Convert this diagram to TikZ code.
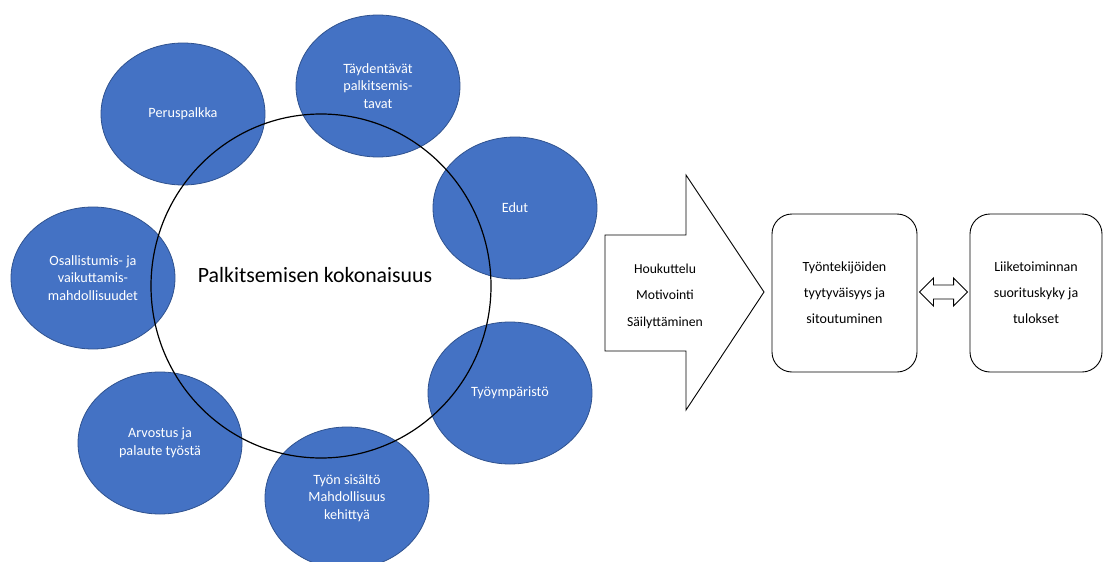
\documentclass[tikz,border=0pt]{standalone}
\usepackage{fontspec}
\setmainfont{Carlito}
\usetikzlibrary{shapes.geometric,calc}
\definecolor{ellblue}{HTML}{4472C4}
\definecolor{elledge}{HTML}{2F528F}
\begin{document}
\begin{tikzpicture}[x=1pt,y=-1pt,
  ell/.style={ellipse, fill=ellblue, draw=elledge, line width=0.8pt, minimum width=164pt, minimum height=142pt, inner sep=0pt, text=white, font=\fontsize{14.2}{17.5}\selectfont, align=center},
  box/.style={draw=black, line width=0.9pt, rounded corners=20pt, minimum height=158pt, inner sep=0pt, align=center, font=\fontsize{14}{26}\selectfont},
  shape line/.style={draw=black, line width=0.9pt, line join=miter},
  ]
\path[use as bounding box, fill=white] (0,0) rectangle (1103,562);
% blue ellipses
\node[ell] (perus) at (183,114) {Peruspalkka};
\node[ell] (tayd) at (378,86) {Täydentävät\\palkitsemis-\\tavat};
\node[ell] (edut) at (515,208) {Edut};
\node[ell] (osal) at (93,278) {Osallistumis- ja\\vaikuttamis-\\mahdollisuudet};
\node[ell] (tyoymp) at (510,393) {Työympäristö};
\node[ell] (arvo) at (160,443) {Arvostus ja\\palaute työstä};
\node[ell] (sisalto) at (347,498) {Työn sisältö\\Mahdollisuus\\kehittyä};
% big circle
\node[ellipse, draw=black, line width=1.2pt, minimum width=340pt, minimum height=344pt, inner sep=0pt] (whole) at (321,286) {};
\node[font=\fontsize{21.8}{26}\selectfont] (title) at (315,275) {Palkitsemisen kokonaisuus};
% block arrow
\path[shape line] (605,235) -- (686,235) -- (686,175) -- (764,292) -- (686,410) -- (686,351) -- (605,351) -- cycle;
\node[align=center, font=\fontsize{13.7}{26.5}\selectfont] (arrowtext) at (665,296) {Houkuttelu\\Motivointi\\Säilyttäminen};
% boxes
\node[box, minimum width=145pt] (box1) at (844.5,293) {Työntekijöiden\\tyytyväisyys ja\\sitoutuminen};
\node[box, minimum width=132pt] (box2) at (1036,293) {Liiketoiminnan\\suorituskyky ja\\tulokset};
% double arrow
\coordinate (dl) at ($(box1.east)+(2,-1)$);
\coordinate (dr) at ($(box2.west)+(-2,-1)$);
\path[shape line] (dl) -- ($(dl)+(14,-14)$) -- ($(dl)+(14,-7)$) -- ($(dr)+(-14,-7)$) -- ($(dr)+(-14,-14)$) -- (dr) -- ($(dr)+(-14,14)$) -- ($(dr)+(-14,7)$) -- ($(dl)+(14,7)$) -- ($(dl)+(14,14)$) -- cycle;
\end{tikzpicture}
\end{document}
